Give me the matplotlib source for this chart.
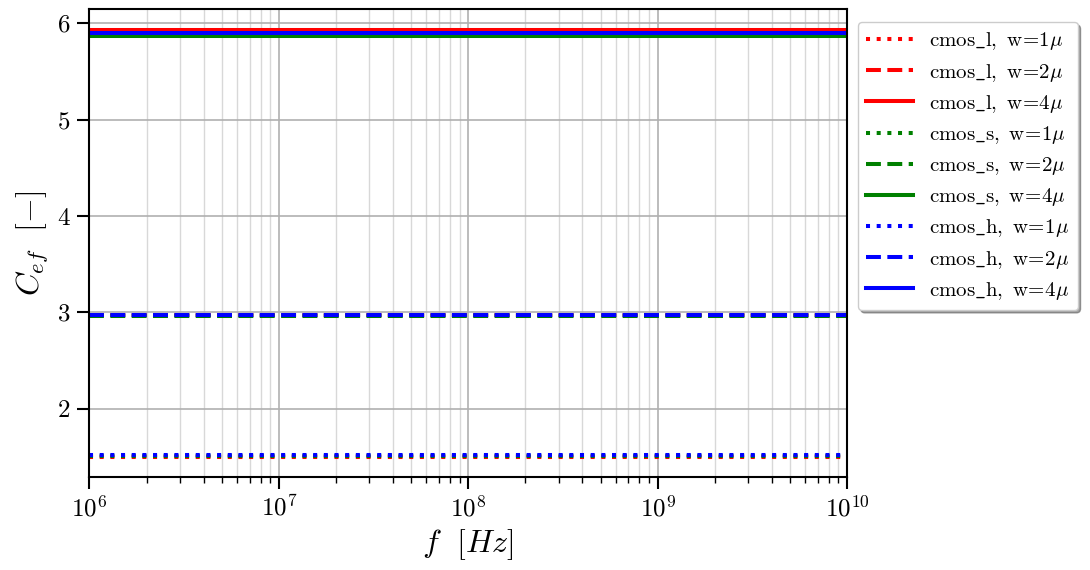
import numpy as np
import matplotlib
matplotlib.use("Agg")
import matplotlib.pyplot as plt

plt.rcParams["font.family"] = "serif"
plt.rcParams["font.serif"] = ["cmr10"]
plt.rcParams["mathtext.fontset"] = "cm"
plt.rcParams["axes.formatter.use_mathtext"] = True

# Frequency sweep endpoints (Hz)
freq = [1e6, 1e10]

# Effective capacitance per process and width
materials = ["cmos_l", "cmos_s", "cmos_h"]
colors = ["red", "green", "blue"]
widths = [1, 2, 4]
styles = [":", "--", "-"]

cef_cmos_l = [1.495, 2.970, 5.932]
cef_cmos_s = [1.505, 2.962, 5.868]
cef_cmos_h = [1.522, 2.976, 5.902]
cef_values = [cef_cmos_l, cef_cmos_s, cef_cmos_h]

fig = plt.figure(figsize=(10.9, 5.7), dpi=100)
ax = fig.add_axes([0.0821, 0.1637, 0.7771 - 0.0821, 0.9842 - 0.1637])

for mat, col, vals in zip(materials, colors, cef_values):
    for w, ls, v in zip(widths, styles, vals):
        name = mat.replace("_", r"\_")
        label = r"$\mathrm{%s,\ w}\!=\!\mathrm{%d}\mu$" % (name, w)
        ax.plot(freq, [v, v], color=col, linestyle=ls, linewidth=2.9, label=label)

ax.set_xscale("log")
ax.set_xlim(1e6, 1e10)
ax.set_ylim(1.294, 6.148)
ax.set_yticks([2, 3, 4, 5, 6])

ax.grid(True, which="major", color="#b0b0b0", linewidth=1.2)
ax.grid(True, which="minor", color="#d8d8d8", linewidth=1.0)
ax.set_axisbelow(True)

for sp in ax.spines.values():
    sp.set_linewidth(1.5)
ax.tick_params(which="major", length=8.6, width=1.5, labelsize=18, pad=5)
ax.tick_params(which="minor", length=4.3, width=1.0)

ax.set_xlabel(r"$f\ \ [Hz]$", fontsize=23)
ax.set_ylabel(r"$C_{ef}\ \ [-]$", fontsize=23)

ax.legend(loc="upper left", bbox_to_anchor=(1.0145, 0.972), borderaxespad=0.0,
          fontsize=15, handlelength=2.25, handletextpad=0.77, labelspacing=0.44,
          borderpad=0.4, fancybox=True, shadow=True, framealpha=1.0,
          edgecolor="#cccccc")

fig.savefig("out.png", dpi=100)
